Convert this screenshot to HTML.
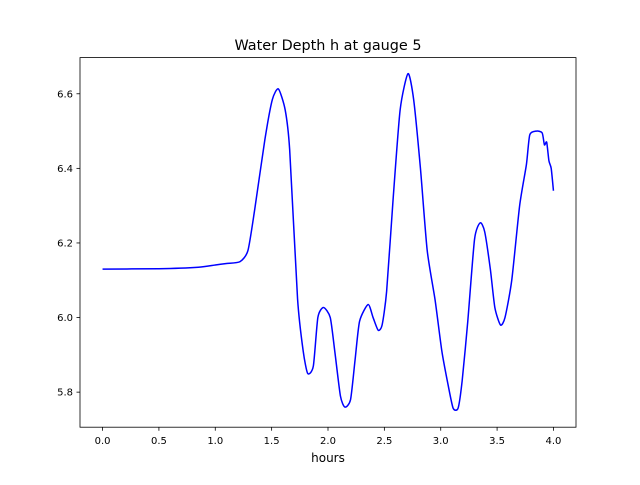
<!DOCTYPE html>
<html><head><meta charset="utf-8"><style>
body{margin:0;background:#fff;}
svg text{font-family:"DejaVu Sans","Liberation Sans",sans-serif;}
</style></head><body>
<svg id="chart" width="640" height="480" viewBox="0 0 640 480" xmlns="http://www.w3.org/2000/svg">
<rect width="640" height="480" fill="#fff"/>
<text x="328" y="50" font-size="14.4" text-anchor="middle">Water Depth h at gauge 5</text>
<g id="plot"></g>
<rect x="80" y="57.6" width="496" height="369.6" fill="none" stroke="#000" stroke-width="0.8"/>
<text x="328" y="462" font-size="12" text-anchor="middle">hours</text>
</svg>
<script>
const times=[0,0.5,0.85,1.0,1.1,1.22,1.29,1.35,1.44,1.506,1.56,1.62,1.66,1.73,1.78,1.82,1.87,1.91,1.96,2.02,2.06,2.11,2.15,2.20,2.24,2.28,2.356,2.40,2.445,2.48,2.52,2.577,2.64,2.71,2.76,2.82,2.88,2.95,3.01,3.065,3.11,3.154,3.19,3.24,3.30,3.35,3.39,3.44,3.48,3.53,3.57,3.63,3.70,3.76,3.79,3.85,3.90,3.92,3.94,3.96,3.98,4.0];
const depths=[6.13,6.131,6.135,6.141,6.145,6.15,6.18,6.29,6.477,6.584,6.613,6.557,6.45,6.05,5.91,5.85,5.87,6.0,6.027,6.0,5.91,5.79,5.76,5.78,5.886,5.99,6.035,6.0,5.966,5.98,6.07,6.315,6.557,6.654,6.584,6.40,6.18,6.047,5.91,5.82,5.757,5.757,5.83,5.99,6.21,6.254,6.23,6.13,6.027,5.98,6.0,6.1,6.30,6.41,6.49,6.50,6.495,6.463,6.47,6.42,6.40,6.34];
const xTicks=[0,0.5,1,1.5,2,2.5,3,3.5,4];
const xTickLabels=["0.0","0.5","1.0","1.5","2.0","2.5","3.0","3.5","4.0"];
const yTicks=[5.8,6.0,6.2,6.4,6.6];
const yTickLabels=["5.8","6.0","6.2","6.4","6.6"];
const L=80,R=576,T=57.6,B=427.2,x0=-0.2,x1=4.2,y0=5.706,y1=6.697;
const sx=v=>L+(v-x0)/(x1-x0)*(R-L);
const sy=v=>B-(v-y0)/(y1-y0)*(B-T);
const NS="http://www.w3.org/2000/svg";
const g=document.getElementById('plot');
function mk(t,a){const e=document.createElementNS(NS,t);for(const k in a)e.setAttribute(k,a[k]);g.appendChild(e);return e;}
xTicks.forEach((v,i)=>{
 const l=mk('line',{x1:sx(v),x2:sx(v),y1:B,y2:B+3.5,stroke:'#000','stroke-width':0.8});
 
 
 const t=mk('text',{x:sx(v),y:B+17,'font-size':10,'text-anchor':'middle'});
 t.textContent=xTickLabels[i];
 
 
});
yTicks.forEach((v,i)=>{
 const l=mk('line',{x1:L-3.5,x2:L,y1:sy(v),y2:sy(v),stroke:'#000','stroke-width':0.8});
 
 
 const t=mk('text',{x:L-7,y:sy(v)+3.5,'font-size':10,'text-anchor':'end'});
 t.textContent=yTickLabels[i];
 
 
});
const pts=times.map((t,i)=>[sx(t),sy(depths[i])]);
let d='M'+pts[0][0]+','+pts[0][1];
for(let i=0;i<pts.length-1;i++){
 const p0=pts[Math.max(0,i-1)],p1=pts[i],p2=pts[i+1],p3=pts[Math.min(pts.length-1,i+2)];
 const k=9;
 const c1=[p1[0]+(p2[0]-p0[0])/k,p1[1]+(p2[1]-p0[1])/k],c2=[p2[0]-(p3[0]-p1[0])/k,p2[1]-(p3[1]-p1[1])/k];
 d+=' C'+c1+' '+c2+' '+p2;
}
const line=mk('path',{d:d,fill:'none',stroke:'#0000ff','stroke-width':1.5});


</script>
</body></html>
